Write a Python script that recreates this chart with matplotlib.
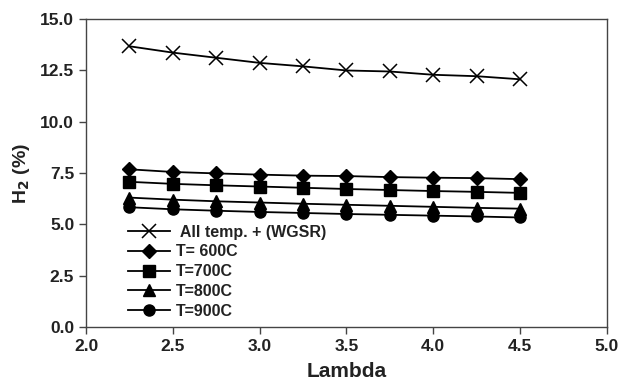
import matplotlib
matplotlib.use("Agg")
import matplotlib.pyplot as plt

plt.rcParams['font.family'] = ['Liberation Sans', 'DejaVu Sans']

lam = [2.25, 2.5, 2.75, 3.0, 3.25, 3.5, 3.75, 4.0, 4.25, 4.5]
wgsr = [13.68, 13.37, 13.12, 12.87, 12.70, 12.50, 12.45, 12.29, 12.22, 12.07]
t600 = [7.68, 7.55, 7.48, 7.42, 7.37, 7.35, 7.30, 7.27, 7.25, 7.20]
t700 = [7.07, 6.97, 6.90, 6.84, 6.78, 6.72, 6.67, 6.62, 6.58, 6.53]
t800 = [6.30, 6.20, 6.12, 6.06, 6.00, 5.95, 5.90, 5.85, 5.80, 5.76]
t900 = [5.83, 5.73, 5.66, 5.60, 5.55, 5.50, 5.46, 5.42, 5.38, 5.33]
labels = [' All temp. + (WGSR)', 'T= 600C', 'T=700C', 'T=800C', 'T=900C']
xticks = [2.0, 2.5, 3.0, 3.5, 4.0, 4.5, 5.0]
yticks = [0.0, 2.5, 5.0, 7.5, 10.0, 12.5, 15.0]

fig = plt.figure(figsize=(6.21, 3.84), dpi=100)
ax = fig.add_axes([0.1385, 0.149, 0.8385, 0.801])

ax.plot(lam, wgsr, color='black', lw=1.3, marker='x', ms=10, mew=1.1, label=labels[0])
ax.plot(lam, t600, color='black', lw=1.3, marker='D', ms=7, label=labels[1])
ax.plot(lam, t700, color='black', lw=1.3, marker='s', ms=8, label=labels[2])
ax.plot(lam, t800, color='black', lw=1.3, marker='^', ms=8, label=labels[3])
ax.plot(lam, t900, color='black', lw=1.3, marker='o', ms=8, label=labels[4])

ax.set_xlim(2.0, 5.0)
ax.set_ylim(0.0, 15.0)
ax.set_xticks(xticks)
ax.set_yticks(yticks)
ax.set_xticklabels([f'{v:.1f}' for v in xticks], fontsize=12.5, fontweight='bold', color='#222222')
ax.set_yticklabels([f'{v:.1f}' for v in yticks], fontsize=12.5, fontweight='bold', color='#222222')
ax.tick_params(direction='out', length=5, width=1, color='#444444')
for s in ax.spines.values():
    s.set_color('#444444')
    s.set_linewidth(1)

ax.set_xlabel('Lambda', fontsize=15, fontweight='bold', color='#222222', labelpad=6)
ax.set_ylabel('H$_\\mathbf{2}$ (%)', fontsize=14, fontweight='bold', color='#222222', labelpad=6)

leg = ax.legend(loc='lower left', bbox_to_anchor=(0.06, -0.01), frameon=False,
                prop={'weight': 'bold', 'size': 11.5}, handlelength=2.6,
                labelspacing=0.3, borderaxespad=0.3, handletextpad=0.4)
for t in leg.get_texts():
    t.set_color('#222222')

fig.savefig('out.png', dpi=100)
